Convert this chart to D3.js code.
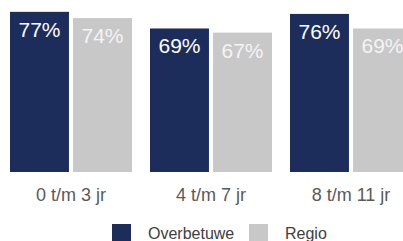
<!DOCTYPE html>
<html>
<head>
<meta charset="utf-8">
<script src="https://cdn.jsdelivr.net/npm/d3@7"></script>
<style>
  body { margin: 0; background: #fff; }
  svg { display: block; font-family: "Liberation Sans", Arial, sans-serif; }
</style>
</head>
<body>
<div id="chart"></div>
<script>
// data
const categories = ['0 t/m 3 jr', '4 t/m 7 jr', '8 t/m 11 jr'];
const seriesNames = ['Overbetuwe', 'Regio'];
const overbetuwe = [0.77, 0.69, 0.76];
const regio = [0.74, 0.67, 0.69];
const seriesValues = [overbetuwe, regio];

const colors = ['#1c2d5c', '#c8c8c8'];
const labelColors = ['#ffffff', '#f4f4f4'];

const width = 403;
const height = 241;

const svg = d3.select('#chart')
  .append('svg')
  .attr('width', width)
  .attr('height', height);

// group scale: step 140, first group starts at x=10
const x0 = d3.scaleBand()
  .domain(categories)
  .range([1, 421])
  .paddingInner(18 / 140)
  .paddingOuter(9 / 140);

const x1 = d3.scaleBand()
  .domain(seriesNames)
  .range([0, x0.bandwidth()])
  .paddingInner(0.065);

const y = d3.scaleLinear()
  .domain([0, 1])
  .range([172, -36]);

const rows = categories.map((c, i) => ({
  cat: c,
  vals: seriesNames.map((s, j) => ({ series: s, idx: j, value: seriesValues[j][i] }))
}));

const groups = svg.selectAll('g.group')
  .data(rows)
  .enter()
  .append('g')
  .attr('class', 'group')
  .attr('transform', d => `translate(${x0(d.cat)},0)`);

groups.selectAll('rect')
  .data(d => d.vals)
  .enter()
  .append('rect')
  .attr('x', d => x1(d.series))
  .attr('y', d => y(d.value))
  .attr('width', x1.bandwidth())
  .attr('height', d => y(0) - y(d.value))
  .attr('fill', d => colors[d.idx]);

// value labels inside bars
groups.selectAll('text.val')
  .data(d => d.vals)
  .enter()
  .append('text')
  .attr('class', 'val')
  .attr('x', d => x1(d.series) + x1.bandwidth() / 2)
  .attr('y', d => y(d.value) + 25)
  .attr('text-anchor', 'middle')
  .style('font-size', '21px')
  .style('fill', d => labelColors[d.idx])
  .text(d => Math.round(d.value * 100) + '%');

// category labels
svg.selectAll('text.cat')
  .data(categories)
  .enter()
  .append('text')
  .attr('class', 'cat')
  .attr('x', d => x0(d) + x0.bandwidth() / 2)
  .attr('y', 201)
  .attr('text-anchor', 'middle')
  .style('font-size', '18px')
  .style('fill', '#595959')
  .text(d => d);

// legend
const legendX = [112, 249];
const legend = svg.selectAll('g.legend')
  .data(seriesNames)
  .enter()
  .append('g')
  .attr('class', 'legend')
  .attr('transform', (d, i) => `translate(${legendX[i]},224)`);

legend.append('rect')
  .attr('width', 19)
  .attr('height', 19)
  .attr('fill', (d, i) => colors[i]);

legend.append('text')
  .attr('x', 36)
  .attr('y', 15)
  .style('font-size', '16px')
  .style('fill', '#404040')
  .text(d => d);
</script>
</body>
</html>
